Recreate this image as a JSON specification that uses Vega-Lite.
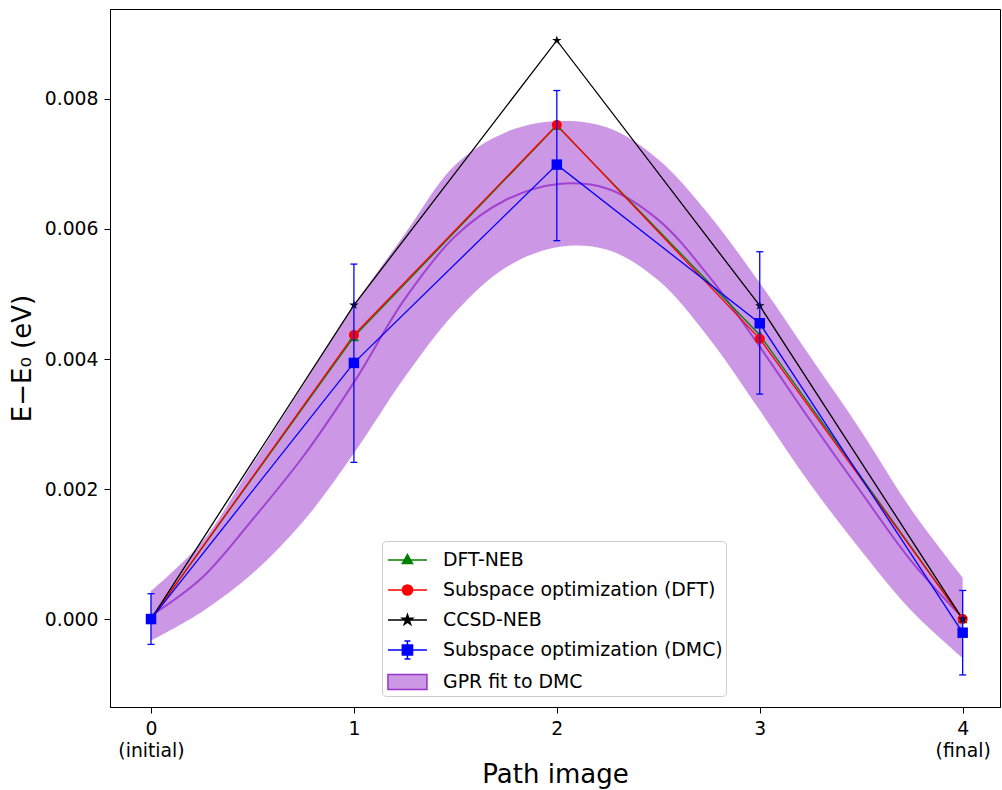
{
  "$schema": "https://vega.github.io/schema/vega-lite/v6.json",
  "width": 890,
  "height": 698,
  "autosize": {"type": "none"},
  "padding": {"left": 110, "top": 9, "right": 2, "bottom": 83},
  "background": "white",
  "config": {
    "font": "DejaVu Sans",
    "view": {"stroke": "black", "strokeWidth": 1},
    "axis": {"grid": false, "domainColor": "black", "tickColor": "black", "tickSize": 6, "labelFontSize": 18.8, "labelColor": "black", "labelFont": "DejaVu Sans", "titleFont": "DejaVu Sans", "titleFontSize": 26, "titleFontWeight": "normal", "titleColor": "black"}
  },
  "datasets": {
    "paths": [
      {"series": "DFT-NEB", "image": 0, "energy": 0},
      {"series": "DFT-NEB", "image": 1, "energy": 0.00434},
      {"series": "DFT-NEB", "image": 2, "energy": 0.00759},
      {"series": "DFT-NEB", "image": 3, "energy": 0.00437},
      {"series": "DFT-NEB", "image": 4, "energy": 0},
      {"series": "Subspace optimization (DFT)", "image": 0, "energy": 0},
      {"series": "Subspace optimization (DFT)", "image": 1, "energy": 0.00437},
      {"series": "Subspace optimization (DFT)", "image": 2, "energy": 0.0076},
      {"series": "Subspace optimization (DFT)", "image": 3, "energy": 0.00431},
      {"series": "Subspace optimization (DFT)", "image": 4, "energy": 0},
      {"series": "CCSD-NEB", "image": 0, "energy": 0},
      {"series": "CCSD-NEB", "image": 1, "energy": 0.00483},
      {"series": "CCSD-NEB", "image": 2, "energy": 0.0089},
      {"series": "CCSD-NEB", "image": 3, "energy": 0.00482},
      {"series": "CCSD-NEB", "image": 4, "energy": 0}
    ],
    "dmc": [
      {"series": "Subspace optimization (DMC)", "image": 0, "energy": 0, "lo": -0.00039, "hi": 0.00039},
      {"series": "Subspace optimization (DMC)", "image": 1, "energy": 0.00394, "lo": 0.00241, "hi": 0.00546},
      {"series": "Subspace optimization (DMC)", "image": 2, "energy": 0.00699, "lo": 0.00582, "hi": 0.00813},
      {"series": "Subspace optimization (DMC)", "image": 3, "energy": 0.00455, "lo": 0.00346, "hi": 0.00565},
      {"series": "Subspace optimization (DMC)", "image": 4, "energy": -0.00021, "lo": -0.00086, "hi": 0.00044}
    ],
    "gpr": [
      {"image": 0.0, "mean": 0.00005, "lo": -0.00033, "hi": 0.00043},
      {"image": 0.25, "mean": 0.00063, "lo": 0.00011, "hi": 0.00118},
      {"image": 0.5, "mean": 0.00153, "lo": 0.0007, "hi": 0.00238},
      {"image": 0.75, "mean": 0.0025, "lo": 0.0015, "hi": 0.0036},
      {"image": 1.0, "mean": 0.00364, "lo": 0.00255, "hi": 0.00482},
      {"image": 1.25, "mean": 0.00492, "lo": 0.00372, "hi": 0.00592},
      {"image": 1.5, "mean": 0.00589, "lo": 0.00472, "hi": 0.00699},
      {"image": 1.75, "mean": 0.00645, "lo": 0.00541, "hi": 0.00749},
      {"image": 2.0, "mean": 0.00669, "lo": 0.00572, "hi": 0.00766},
      {"image": 2.25, "mean": 0.00662, "lo": 0.00568, "hi": 0.00756},
      {"image": 2.5, "mean": 0.00614, "lo": 0.00521, "hi": 0.00707},
      {"image": 2.75, "mean": 0.00527, "lo": 0.00432, "hi": 0.00622},
      {"image": 3.0, "mean": 0.00419, "lo": 0.00321, "hi": 0.00517},
      {"image": 3.25, "mean": 0.00305, "lo": 0.00207, "hi": 0.00403},
      {"image": 3.5, "mean": 0.00195, "lo": 0.00105, "hi": 0.00289},
      {"image": 3.75, "mean": 0.00088, "lo": 0.00012, "hi": 0.00167},
      {"image": 4.0, "mean": 0.00002, "lo": -0.0006, "hi": 0.00064}
    ]
  },
  "encoding": {
    "x": {"type": "quantitative", "scale": {"domain": [-0.202, 4.184], "nice": false, "zero": false},
      "axis": {"title": "Path image", "values": [0, 1, 2, 3, 4], "labelExpr": "datum.value == 0 ? ['0', '(initial)'] : datum.value == 4 ? ['4', '(final)'] : datum.label", "labelLineHeight": 22, "labelPadding": 6, "titlePadding": 2}},
    "y": {"type": "quantitative", "scale": {"domain": [-0.001353, 0.009384], "nice": false, "zero": false},
      "axis": {"title": "E−E₀ (eV)", "values": [0, 0.002, 0.004, 0.006, 0.008], "format": ".3f", "labelPadding": 6, "titlePadding": 9}}
  },
  "layer": [
    {
      "data": {"name": "gpr"},
      "mark": {"type": "area", "interpolate": "catmull-rom", "fillOpacity": 0.5},
      "encoding": {
        "x": {"field": "image"},
        "y": {"field": "lo"},
        "y2": {"field": "hi"},
        "color": {"datum": "GPR fit to DMC", "type": "nominal", "title": null,
          "scale": {"domain": ["DFT-NEB", "Subspace optimization (DFT)", "CCSD-NEB", "Subspace optimization (DMC)", "GPR fit to DMC"], "range": ["#008000", "#ff0000", "#000000", "#0000ff", "#9932cc"]},
          "legend": {
            "title": null, "orient": "none", "legendX": 272, "legendY": 532,
            "padding": 3, "strokeColor": "#cccccc", "fillColor": "white", "cornerRadius": 4,
            "labelFontSize": 18.9, "labelFont": "DejaVu Sans", "labelColor": "black", "labelLimit": 400,
            "symbolSize": 900, "rowPadding": 4, "labelOffset": 26, "symbolStrokeWidth": 1.5,
            "encode": {"symbols": {"update": {
              "shape": {"signal": "datum.value == 'DFT-NEB' ? 'M-0.87,0H1.73M0.43,-0.36L0.77,0.24L0.09,0.24Z' : datum.value == 'Subspace optimization (DFT)' ? 'M-0.87,0H1.73M0.77,0A0.34,0.34,0,1,1,0.09,0A0.34,0.34,0,1,1,0.77,0Z' : datum.value == 'CCSD-NEB' ? 'M-0.87,0H1.73M0.43,-0.36L0.511,-0.111L0.772,-0.111L0.561,0.042L0.642,0.291L0.43,0.138L0.218,0.291L0.299,0.042L0.088,-0.111L0.349,-0.111Z' : datum.value == 'Subspace optimization (DMC)' ? 'M-0.87,0H1.73M0.43,-0.6V0.6M0.23,-0.6H0.63M0.23,0.6H0.63M0.09,-0.34H0.77V0.34H0.09Z' : 'M-0.87,-0.5H1.73V0.5H-0.87Z'"},
              "fill": {"signal": "scale('color', datum.value)"},
              "fillOpacity": {"signal": "datum.value == 'GPR fit to DMC' ? 0.5 : 1"},
              "stroke": {"signal": "datum.value == 'GPR fit to DMC' ? 'transparent' : scale('color', datum.value)"},
              "strokeWidth": {"value": 1.5},
              "opacity": {"value": 1}
            }}}
          }}
      }
    },
    {
      "data": {"name": "gpr"},
      "mark": {"type": "line", "interpolate": "catmull-rom", "color": "#9932cc", "opacity": 0.85, "strokeWidth": 2},
      "encoding": {"x": {"field": "image"}, "y": {"field": "mean"}}
    },
    {
      "data": {"name": "paths"},
      "mark": {"type": "line", "strokeWidth": 1.3},
      "encoding": {"x": {"field": "image"}, "y": {"field": "energy"}, "color": {"field": "series", "type": "nominal", "title": null}}
    },
    {
      "data": {"name": "paths"},
      "mark": {"type": "point", "filled": true, "opacity": 1, "size": 100},
      "encoding": {"x": {"field": "image"}, "y": {"field": "energy"}, "color": {"field": "series", "type": "nominal", "title": null},
        "shape": {"field": "series", "type": "nominal", "legend": null,
          "scale": {"domain": ["DFT-NEB", "Subspace optimization (DFT)", "CCSD-NEB"], "range": ["triangle-up", "circle", "M0,-1L0.225,-0.309L0.951,-0.309L0.363,0.118L0.588,0.809L0,0.382L-0.588,0.809L-0.363,0.118L-0.951,-0.309L-0.225,-0.309Z"]}}}
    },
    {
      "data": {"name": "dmc"},
      "mark": {"type": "rule", "color": "#0000ff", "strokeWidth": 1.3},
      "encoding": {"x": {"field": "image"}, "y": {"field": "lo"}, "y2": {"field": "hi"}}
    },
    {
      "data": {"name": "dmc"},
      "mark": {"type": "tick", "orient": "horizontal", "color": "#0000ff", "size": 7, "thickness": 1.3, "opacity": 1},
      "encoding": {"x": {"field": "image"}, "y": {"field": "lo"}}
    },
    {
      "data": {"name": "dmc"},
      "mark": {"type": "tick", "orient": "horizontal", "color": "#0000ff", "size": 7, "thickness": 1.3, "opacity": 1},
      "encoding": {"x": {"field": "image"}, "y": {"field": "hi"}}
    },
    {
      "data": {"name": "dmc"},
      "mark": {"type": "line", "strokeWidth": 1.3},
      "encoding": {"x": {"field": "image"}, "y": {"field": "energy"}, "color": {"field": "series", "type": "nominal", "title": null}}
    },
    {
      "data": {"name": "dmc"},
      "mark": {"type": "point", "filled": true, "opacity": 1, "size": 110, "shape": "square"},
      "encoding": {"x": {"field": "image"}, "y": {"field": "energy"}, "color": {"field": "series", "type": "nominal", "title": null}}
    }
  ]
}
